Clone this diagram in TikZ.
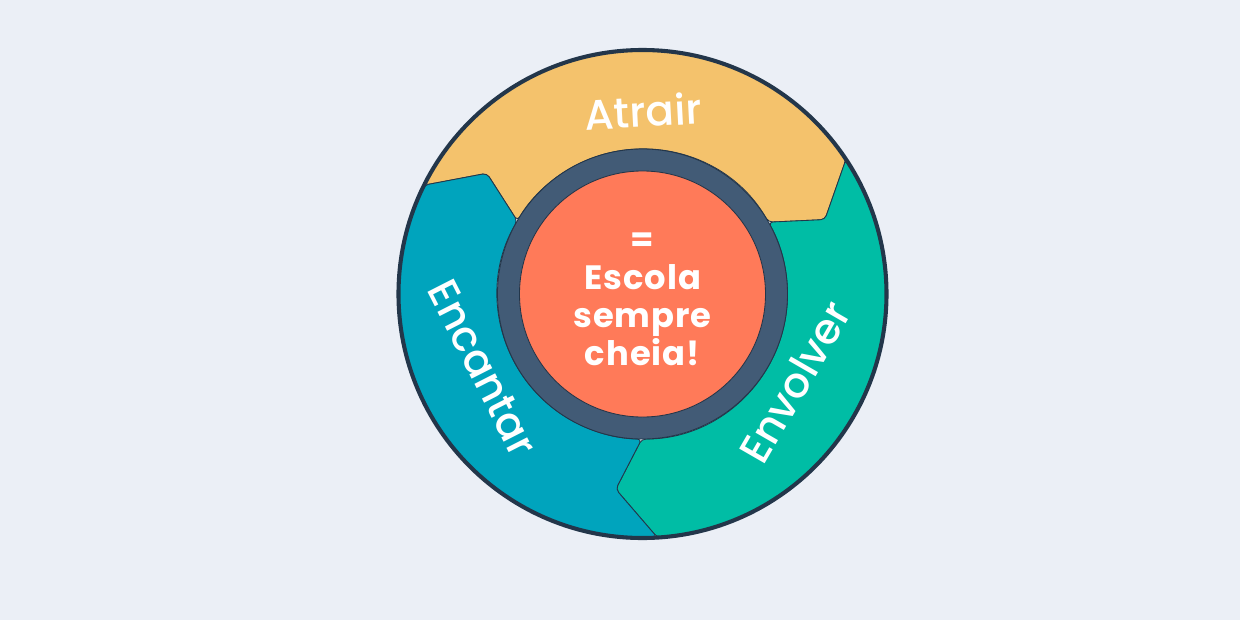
\documentclass[tikz,border=0pt]{standalone}
\usepackage{fontspec}
\setmainfont{Poppins}
\newfontfamily\labelfont{Poppins Medium}
\newfontfamily\corefont[LetterSpace=3]{Poppins Bold}
\usepackage{xcolor}
\definecolor{bgcol}{HTML}{EBEFF6}
\definecolor{atraircol}{HTML}{F4C26C}
\definecolor{envolvercol}{HTML}{00BDA5}
\definecolor{encantarcol}{HTML}{00A4BD}
\definecolor{ringcol}{HTML}{425B76}
\definecolor{corecol}{HTML}{FF7A59}
\definecolor{edgecol}{HTML}{23364A}

\begin{document}
\begin{tikzpicture}[x=0.025cm,y=0.025cm,
	band/.style={draw=edgecol,line width=0.6pt,rounded corners=3pt},
	stage/.style={text=white,font=\labelfont\fontsize{30}{30}\selectfont},
	core/.style={text=white,align=center,font=\corefont\fontsize{24}{27}\selectfont}]
	\fill[bgcol] (-642.5,-326) rectangle (597.5,294);
	% the three arrows of the wheel
	\foreach \a/\col in {33.5/atraircol,273.5/envolvercol,153.5/encantarcol}{
		\pgfmathsetmacro\b{\a+120}
		\filldraw[band,fill=\col] (\b:244) arc[start angle=\b,end angle=\a,radius=244]
			-- (\a-11.3:197) -- (\a-3.8:145) arc[start angle=\a-3.8,end angle=\b-3.8,radius=145]
			-- (\b-11.3:197) -- cycle;
	}
	\draw[edgecol,line width=2.9pt] (0,0) circle[radius=244];
	\filldraw[fill=ringcol,draw=edgecol,line width=0.6pt] (0,0) circle[radius=145];
	\filldraw[fill=corecol,draw=edgecol,line width=0.6pt] (0,0) circle[radius=123];
	\node[stage,rotate=3] (atrair) at (0.5,183) {Atrair};
	\node[stage,rotate=60] (envolver) at (152.5,-88) {Envolver};
	\node[stage,rotate=-63] (encantar) at (-160,-74) {Encantar};
	\node[core] (escola) at (0,-5) {=\\Escola\\sempre\\cheia!};
\end{tikzpicture}
\end{document}
